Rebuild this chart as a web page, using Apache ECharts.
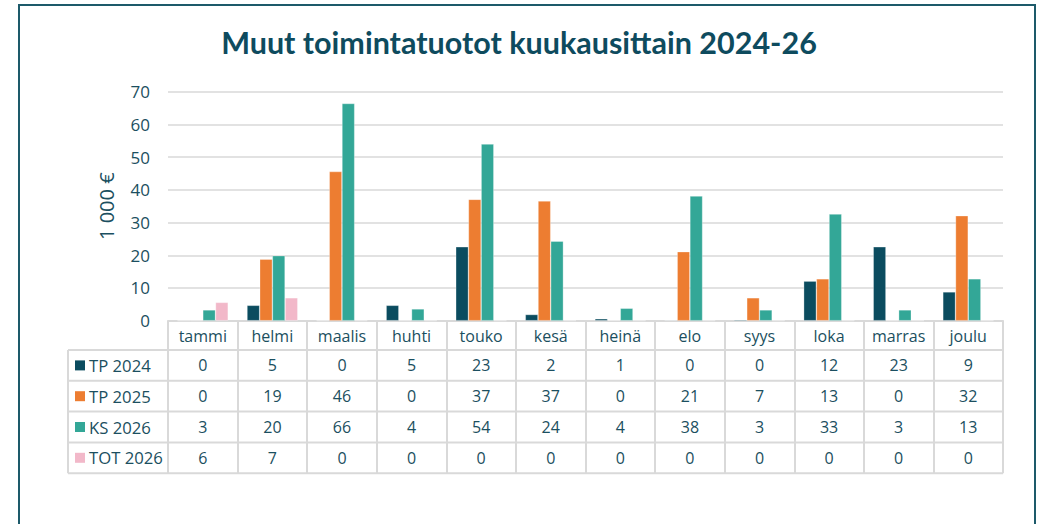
<!DOCTYPE html>
<html>
<head>
<meta charset="utf-8">
<script src="https://cdn.jsdelivr.net/npm/echarts@6/dist/echarts.min.js"></script>
<style>
html,body{margin:0;padding:0;background:#fff;}
#c{width:1038px;height:524px;}
</style>
</head>
<body>
<div id="c"></div>
<script>
const title = 'Muut toimintatuotot kuukausittain 2024-26';
const yAxisName = '1 000 €';
const categories = ['tammi','helmi','maalis','huhti','touko','kesä','heinä','elo','syys','loka','marras','joulu'];
const seriesNames = ['TP 2024','TP 2025','KS 2026','TOT 2026'];
const tp2024 = [0, 4.7, 0, 4.7, 22.6, 1.9, 0.6, 0.2, 0.3, 12.1, 22.6, 8.8];
const tp2025 = [0, 18.8, 45.6, 0, 37.1, 36.6, 0.1, 21.1, 7.0, 12.8, 0, 32.1];
const ks2026 = [3.3, 19.9, 66.4, 3.6, 54.0, 24.3, 3.8, 38.1, 3.3, 32.6, 3.3, 12.8];
const tot2026 = [5.6, 7.0, 0, 0, 0, 0, 0, 0, 0, 0, 0, 0];
const colors = ['#0B4C5F', '#ED7D31', '#33A797', '#F2B8C9'];
const yTicks = [0, 10, 20, 30, 40, 50, 60, 70];

const allSeries = [tp2024, tp2025, ks2026, tot2026];
const textColor = '#1B4F60';
const lineColor = '#D9D9D9';
const bodyFont = 'Open Sans';

const chart = echarts.init(document.getElementById('c'), null, {renderer: 'svg'});

const option = {
  animation: false,
  backgroundColor: '#fff',
  title: {
    text: title,
    left: 'center',
    top: 21,
    textStyle: {fontFamily: 'Lato', fontWeight: 'bold', fontSize: 30.5, color: '#0E4B5E'}
  },
  grid: {left: 168, right: 35, top: 91.7, bottom: 203.3, containLabel: false},
  xAxis: {
    type: 'category',
    data: categories,
    axisLine: {show: true, lineStyle: {color: lineColor, width: 2}},
    axisTick: {show: true, alignWithLabel: false, interval: 0, length: 152.5, lineStyle: {color: lineColor, width: 2}},
    axisLabel: {show: true, interval: 0, margin: 15, verticalAlign: 'middle', fontFamily: bodyFont, fontSize: 16, color: textColor}
  },
  yAxis: {
    type: 'value',
    min: yTicks[0],
    max: yTicks[yTicks.length - 1],
    interval: 10,
    name: yAxisName,
    nameLocation: 'middle',
    nameGap: 52,
    nameRotate: 90,
    nameTextStyle: {fontFamily: bodyFont, fontSize: 20, color: textColor},
    axisLine: {show: false},
    axisTick: {show: false},
    axisLabel: {fontFamily: bodyFont, fontSize: 17, color: textColor, margin: 18},
    splitLine: {lineStyle: {color: lineColor, width: 1.5}}
  },
  series: allSeries.map((d, i) => ({
    name: seriesNames[i],
    type: 'bar',
    data: d,
    barGap: '0%',
    barCategoryGap: '27%',
    itemStyle: {color: colors[i], borderColor: 'rgba(255,255,255,0.5)', borderWidth: 0.6}
  }))
};
chart.setOption(option);

function buildTable() {
  const y0 = chart.convertToPixel({yAxisIndex: 0}, 0);
  const headerH = 29.3;
  const rowH = 30.8;
  const tableLeft = 68;
  const right = chart.convertToPixel({xAxisIndex: 0}, categories.length - 1);
  const left0 = chart.convertToPixel({xAxisIndex: 0}, 0);
  const catW = (right - left0) / (categories.length - 1);
  const tableRight = right + catW / 2;
  const els = [];
  const top = y0 + headerH;
  for (let r = 0; r <= seriesNames.length; r++) {
    const y = top + r * rowH;
    els.push({type: 'line', silent: true, shape: {x1: tableLeft, y1: y, x2: tableRight, y2: y}, style: {stroke: lineColor, lineWidth: 2}});
  }
  els.push({type: 'line', silent: true, shape: {x1: tableLeft, y1: top, x2: tableLeft, y2: top + seriesNames.length * rowH}, style: {stroke: lineColor, lineWidth: 2}});
  seriesNames.forEach((name, r) => {
    const cy = top + (r + 0.5) * rowH;
    els.push({type: 'rect', silent: true, shape: {x: 75, y: cy - 5, width: 10, height: 10}, style: {fill: colors[r]}});
    els.push({type: 'text', silent: true, x: 89, y: cy, style: {text: name, fontFamily: bodyFont, fontSize: 16.7, fill: textColor, verticalAlign: 'middle', align: 'left'}});
    allSeries[r].forEach((v, i) => {
      const cx = chart.convertToPixel({xAxisIndex: 0}, i);
      els.push({type: 'text', silent: true, x: cx, y: cy, style: {text: String(Math.round(v)), fontFamily: bodyFont, fontSize: 16, fill: textColor, align: 'center', verticalAlign: 'middle'}});
    });
  });
  els.push({type: 'rect', silent: true, shape: {x: 19, y: 5, width: 1016, height: 600}, style: {fill: 'none', stroke: '#1D5A6A', lineWidth: 2}});
  chart.setOption({graphic: {elements: els}});
}
buildTable();
</script>
</body>
</html>
